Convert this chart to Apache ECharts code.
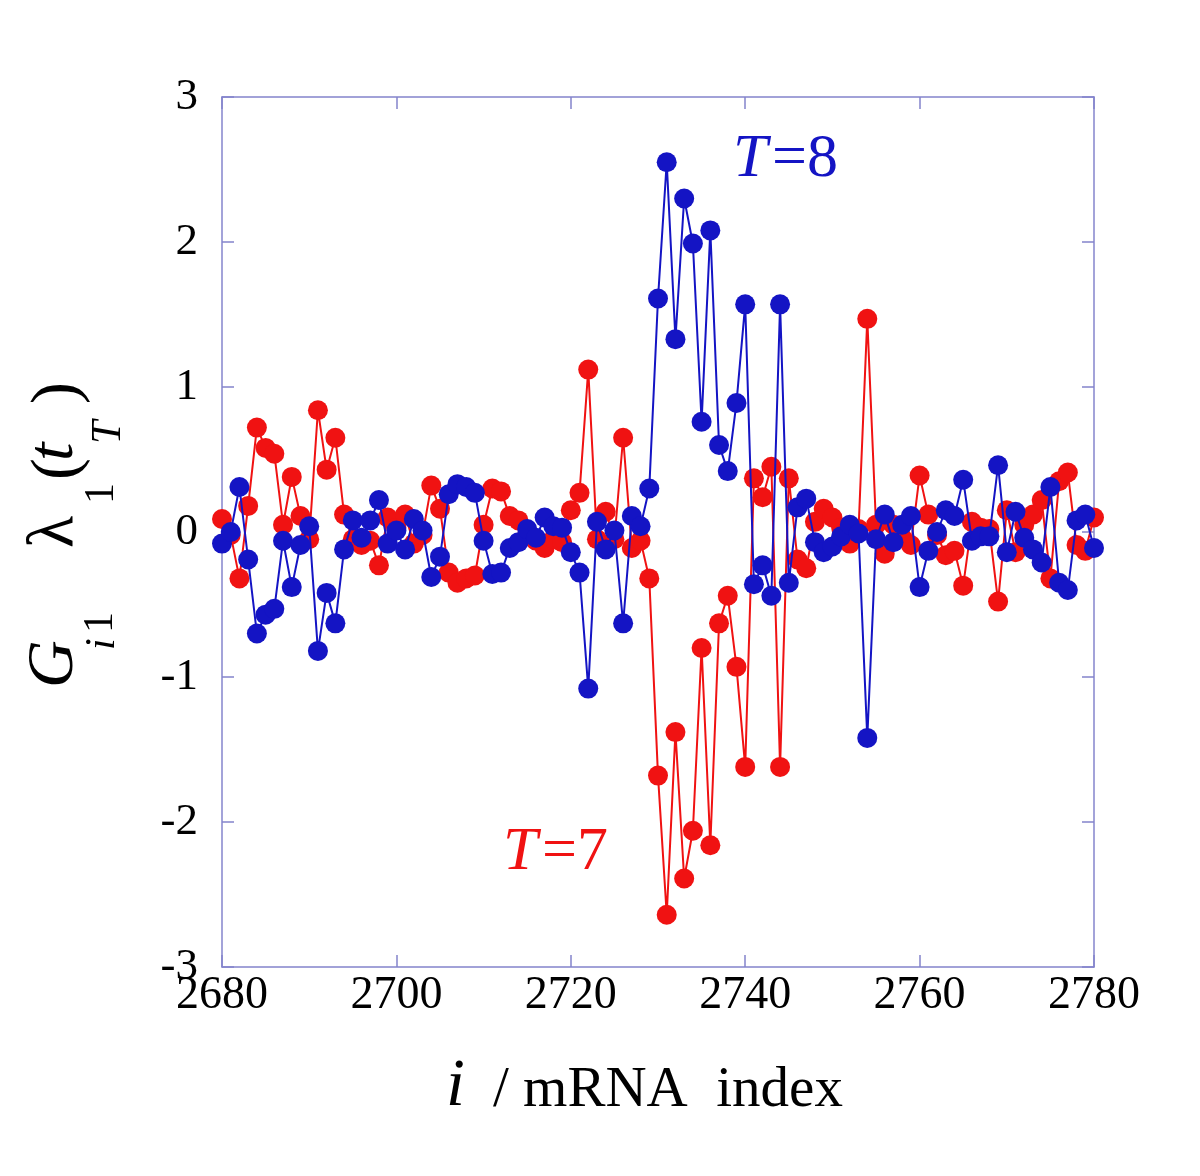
<!DOCTYPE html>
<html>
<head>
<meta charset="utf-8">
<script src="https://cdn.jsdelivr.net/npm/echarts@6/dist/echarts.min.js"></script>
<style>html,body{margin:0;padding:0;background:#fff}#c{width:1200px;height:1176px}</style>
</head>
<body>
<div id="c"></div>
<script>
// mRNA index range
const xStart = 2680;
const xEnd = 2780;
const xTicks = [2680, 2700, 2720, 2740, 2760, 2780];
const yTicks = [-3, -2, -1, 0, 1, 2, 3];

// T=8 (blue), values for i = 2680 .. 2780
const blueT8 = [
 -0.08, 0.00, 0.31, -0.19, -0.70, -0.57, -0.53, -0.06, -0.38, -0.09,
  0.04, -0.82, -0.42, -0.63, -0.12, 0.08, -0.04, 0.08, 0.22, -0.08,
  0.01, -0.12, 0.09, 0.01, -0.31, -0.17, 0.26, 0.33, 0.31, 0.27,
 -0.06, -0.29, -0.28, -0.11, -0.07, 0.02, -0.04, 0.10, 0.04, 0.03,
 -0.14, -0.28, -1.08, 0.07, -0.12, 0.01, -0.63, 0.11, 0.04, 0.30,
  1.61, 2.55, 1.33, 2.30, 1.99, 0.76, 2.08, 0.60, 0.42, 0.89,
  1.57, -0.36, -0.23, -0.44, 1.57, -0.35, 0.17, 0.23, -0.07, -0.14,
 -0.10, -0.03, 0.05, -0.01, -1.42, -0.05, 0.12, -0.07, 0.05, 0.11,
 -0.38, -0.13, 0.00, 0.15, 0.11, 0.36, -0.06, -0.03, -0.03, 0.46,
 -0.14, 0.14, -0.04, -0.12, -0.21, 0.31, -0.35, -0.40, 0.08, 0.12,
 -0.11
];

// T=7 (red), values for i = 2680 .. 2780
const redT7 = [
  0.09, -0.02, -0.32, 0.18, 0.72, 0.58, 0.54, 0.05, 0.38, 0.11,
 -0.05, 0.84, 0.43, 0.65, 0.12, -0.05, -0.09, -0.06, -0.23, 0.10,
  0.03, 0.12, -0.08, -0.02, 0.32, 0.16, -0.28, -0.35, -0.32, -0.30,
  0.05, 0.30, 0.28, 0.11, 0.08, -0.02, -0.06, -0.11, -0.05, -0.07,
  0.15, 0.27, 1.12, -0.05, 0.14, -0.05, 0.65, -0.11, -0.06, -0.32,
 -1.68, -2.64, -1.38, -2.39, -2.06, -0.80, -2.16, -0.63, -0.44, -0.93,
 -1.62, 0.37, 0.24, 0.45, -1.62, 0.37, -0.19, -0.25, 0.07, 0.16,
  0.10, 0.03, -0.08, 0.02, 1.47, 0.05, -0.15, 0.05, -0.04, -0.09,
  0.39, 0.12, -0.02, -0.16, -0.13, -0.37, 0.07, 0.03, 0.02, -0.48,
  0.15, -0.14, 0.05, 0.12, 0.22, -0.32, 0.35, 0.41, -0.09, -0.13,
  0.10
];

const BLUE = '#1414c4';
const RED = '#f01212';
const FRAME = '#8484cc';
const SERIF = '"Liberation Serif","Times New Roman",serif';

const toPairs = arr => arr.map((v, k) => [xStart + k, v]);

const chart = echarts.init(document.getElementById('c'), null, {renderer: 'canvas'});

function txt(x, y, text, font, color, align) {
  return {
    type: 'text', x: x, y: y, silent: true,
    style: {
      text: text, font: font, fill: color || '#000',
      align: align || 'left', verticalAlign: 'middle',
      textAlign: align || 'left', textVerticalAlign: 'middle'
    }
  };
}

const lineS = {color: FRAME, width: 1.5};

const option = {
  backgroundColor: '#fff',
  animation: false,
  grid: {left: 222, top: 97, right: 106, bottom: 209, containLabel: false},
  xAxis: [{
    type: 'value', min: xStart, max: xEnd, interval: 20,
    axisLine: {show: true, onZero: false, lineStyle: lineS},
    axisTick: {show: true, inside: true, length: 12, lineStyle: lineS},
    splitLine: {show: false},
    axisLabel: {
      margin: 6, color: '#000', fontSize: 46, fontFamily: SERIF,
      formatter: v => xTicks.includes(v) ? String(v) : ''
    }
  }, {
    type: 'value', position: 'top', min: xStart, max: xEnd, interval: 20,
    axisLine: {show: true, onZero: false, lineStyle: lineS},
    axisTick: {show: true, inside: true, length: 12, lineStyle: lineS},
    splitLine: {show: false}, axisLabel: {show: false}
  }],
  yAxis: [{
    type: 'value', min: -3, max: 3, interval: 1,
    axisLine: {show: true, onZero: false, lineStyle: lineS},
    axisTick: {show: true, inside: true, length: 12, lineStyle: lineS},
    splitLine: {show: false},
    axisLabel: {
      margin: 24, color: '#000', fontSize: 45, fontFamily: SERIF,
      formatter: v => yTicks.includes(v) ? String(v) : ''
    }
  }, {
    type: 'value', position: 'right', min: -3, max: 3, interval: 1,
    axisLine: {show: true, onZero: false, lineStyle: lineS},
    axisTick: {show: true, inside: true, length: 12, lineStyle: lineS},
    splitLine: {show: false}, axisLabel: {show: false}
  }],
  series: [{
    name: 'T=7', type: 'line', data: toPairs(redT7),
    symbol: 'circle', symbolSize: 20,
    lineStyle: {color: RED, width: 2},
    itemStyle: {color: RED},
    z: 2
  }, {
    name: 'T=8', type: 'line', data: toPairs(blueT8),
    symbol: 'circle', symbolSize: 20,
    lineStyle: {color: BLUE, width: 2},
    itemStyle: {color: BLUE},
    z: 3
  }],
  graphic: [
    // y-axis title, rotated
    {
      type: 'group', x: 77, y: 690, rotation: Math.PI / 2, silent: true,
      children: [
        txt(2, -22, 'G', 'italic 66px ' + SERIF),
        txt(40, 26, 'i', 'italic 42px ' + SERIF),
        txt(57, 24, '1', '42px ' + SERIF),
        txt(142, -22, 'λ', '66px ' + SERIF),
        txt(186, 25, '1', '42px ' + SERIF),
        txt(210, -18, '(', '66px ' + SERIF),
        txt(229, -22, 't', 'italic 66px ' + SERIF),
        txt(246, 32, 'T', 'italic 42px ' + SERIF),
        txt(286, -18, ')', '66px ' + SERIF)
      ]
    },
    // x-axis title
    txt(446, 1087, 'i', 'italic 68px ' + SERIF),
    txt(493, 1091, '/ mRNA  index', '57px ' + SERIF),
    // series annotations
    txt(733, 160, 'T', 'italic 62px ' + SERIF, BLUE),
    txt(772, 160, '=8', '62px ' + SERIF, BLUE),
    txt(503, 853, 'T', 'italic 62px ' + SERIF, RED),
    txt(542, 853, '=7', '62px ' + SERIF, RED)
  ]
};
chart.setOption(option);
</script>
</body>
</html>
